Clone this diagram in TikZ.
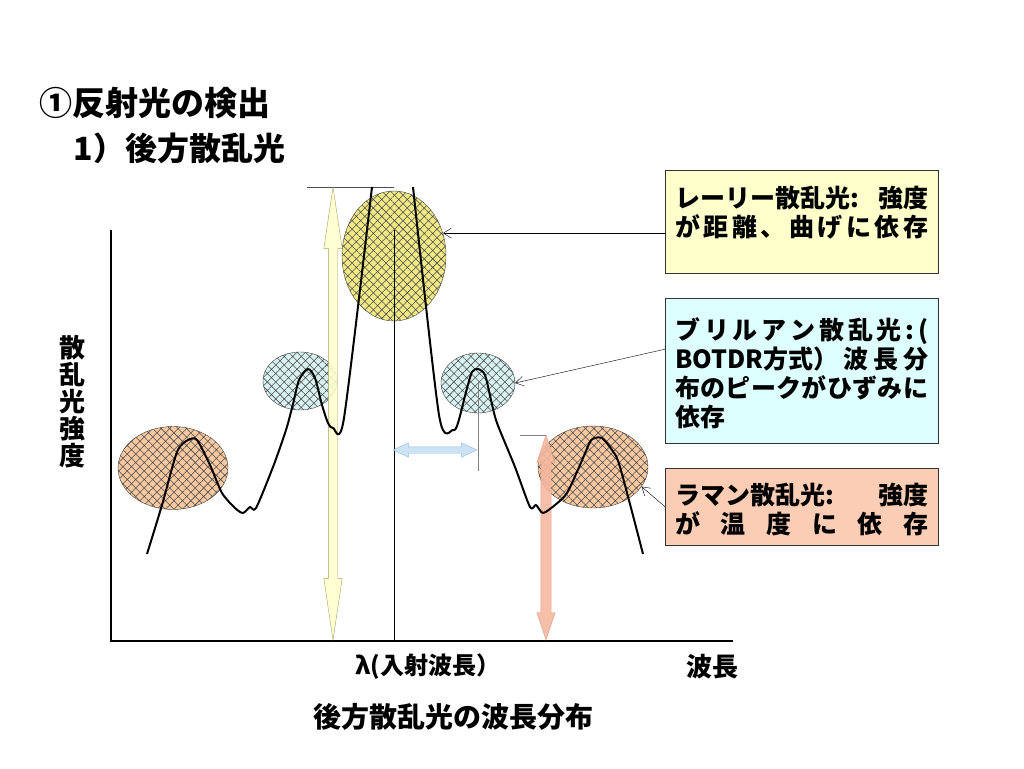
\documentclass[tikz,border=0pt]{standalone}
\usepackage{fontspec}
\newfontfamily\jpfont{Noto Sans CJK JP}
\usetikzlibrary{shapes.geometric,shapes.arrows,patterns.meta,arrows.meta}
\definecolor{rayfill}{HTML}{FFFFCC}
\definecolor{brifill}{HTML}{DDFFFF}
\definecolor{ramfill}{HTML}{FBCDB4}
\definecolor{rayhatch}{HTML}{F0E884}
\definecolor{brihatch}{HTML}{D8F2F2}
\definecolor{ramhatch}{HTML}{F8C8A0}
\definecolor{shiftfill}{HTML}{C6E0F4}
\definecolor{shiftline}{HTML}{8DB4E2}
\definecolor{ramarrow}{HTML}{F4B8A0}
\definecolor{ramline}{HTML}{D9967C}
\makeatletter
\newcommand\spreadline[1]{\leavevmode\hbox to 253pt{\let\spread@gap\relax
	\@tfor\spread@c:=#1\do{\spread@gap\spread@c\let\spread@gap\hfill}}}
\makeatother
\begin{document}
\begin{tikzpicture}[x=1pt,y=-1pt,
		every node/.style={font=\jpfont\bfseries},
		hatched/.style={ellipse,draw=black!75,inner sep=0pt,preaction={fill=#1},
			pattern={Hatch[angle=45,distance=6pt,line width=0.55pt]},pattern color=black!70},
		labelbox/.style={draw=black!80,fill=#1,minimum width=273pt,anchor=north west,inner sep=0pt},
		boxtext/.style={text width=253pt,align=left,inner sep=0pt,anchor=base west,
			font=\jpfont\bfseries\fontsize{25}{29}\selectfont},
		blockarrow/.style 2 args={double arrow,fill=#1,draw=#2,inner xsep=0pt,opacity=0.9},
		curve/.style={line width=2pt,line join=round}
	]
	\useasboundingbox (0,0) rectangle (1024,768);
	\node[font=\jpfont\bfseries\fontsize{33}{36}\selectfont,anchor=west] (title) at (36,103) {①反射光の検出};
	\node[font=\jpfont\bfseries\fontsize{32}{36}\selectfont,anchor=west] (subtitle) at (70,148) {1）後方散乱光};
	\node[hatched=rayhatch,minimum width=104pt,minimum height=130pt] (rayEll) at (394,256) {};
	\node[hatched=brihatch,minimum width=74pt,minimum height=58pt] (briL) at (300,381) {};
	\node[hatched=brihatch,minimum width=74pt,minimum height=60pt] (briR) at (478,383) {};
	\node[hatched=ramhatch,minimum width=110pt,minimum height=83pt] (ramL) at (173,468) {};
	\node[hatched=ramhatch,minimum width=110pt,minimum height=82pt] (ramR) at (593,467) {};
	\draw[line width=2pt] (111,230) -- (111,641) -- (733,641);
	\draw (394,230) -- (394,641);
	\draw[black!70] (307,187) -- (394,187);
	\draw[black!50] (briR.center) -- (478,471);
	\draw[black!50] (520,435) -- (546,435);
	\node[blockarrow={rayfill}{black!35!rayhatch},rotate=90,minimum height=453pt,inner ysep=4.5pt,
		double arrow head extend=4.5pt,double arrow tip angle=17] (rayArrow) at (333,413.5) {};
	\node[blockarrow={shiftfill}{shiftline},minimum height=84pt,inner ysep=3pt,
		double arrow head extend=4pt,double arrow tip angle=50] (shiftArrow) at (435,450) {};
	\node[blockarrow={ramarrow}{ramline},rotate=90,minimum height=205pt,inner ysep=5pt,
		double arrow head extend=4pt,double arrow tip angle=37] (ramArrow) at (546,537.5) {};
	\draw[curve] plot[smooth,tension=0.45] coordinates {(147,554) (162,505) (177,452) (188,440) (197,440)
		(210,465) (222,493) (235,508) (243,513) (250,507) (256,508) (273,467) (286,430) (293,404)
		(299,380) (308,369) (315,378) (322,405) (328,423) (333,428) (344,418) (372,187)};
	\draw[curve] plot[smooth,tension=0.45] coordinates {(413,187) (439,415) (453,430) (458,423) (466,392)
		(472,372) (478,369) (485,375) (491,400) (497,423) (515,467) (530,507) (536,505) (543,513)
		(555,505) (567,493) (580,465) (590,442) (595,438) (602,438) (612,450) (620,467) (643,554)};
	\node[labelbox=rayfill,minimum height=103pt] (rayBox) at (665,170) {};
	\node[boxtext] (rayText) at (675,207) {\spreadline{{レーリー散乱光:}{強度}}\\
		\spreadline{が距離、曲げに依存}};
	\node[labelbox=brifill,minimum height=145pt] (briBox) at (665,298) {};
	\node[boxtext] (briText) at (675,339) {\spreadline{ブリルアン散乱光{:}(}\\
		\spreadline{{BOTDR方式）}波長分}\\
		\spreadline{布のピークがひずみに}\\
		依存};
	\node[labelbox=ramfill,minimum height=77pt] (ramBox) at (665,468) {};
	\node[boxtext] (ramText) at (675,504) {\spreadline{{ラマン散乱光:}{強度}}\\
		\spreadline{が温度に依存}};
	\draw[-{Straight Barb[length=8pt,width=10pt]}] (rayBox.west |- rayEll.25) -- (rayEll.25);
	\draw[-{Straight Barb[length=8pt,width=10pt]}] ([yshift=21.5pt]briBox.west) -- (briR.east);
	\draw[-{Straight Barb[length=8pt,width=10pt]}] (ramBox.west) -- (ramR.-22);
	\node[font=\jpfont\bfseries\fontsize{26}{27}\selectfont,align=center] (yLabel) at (72,402) {散\\乱\\光\\強\\度};
	\node[font=\jpfont\bfseries\fontsize{24}{28}\selectfont] (lambda) at (428,667) {λ(入射波長）};
	\node[font=\jpfont\bfseries\fontsize{26}{28}\selectfont] (xLabel) at (712,667) {波長};
	\node[font=\jpfont\bfseries\fontsize{28}{30}\selectfont] (caption) at (453,717) {後方散乱光の波長分布};
\end{tikzpicture}
\end{document}
